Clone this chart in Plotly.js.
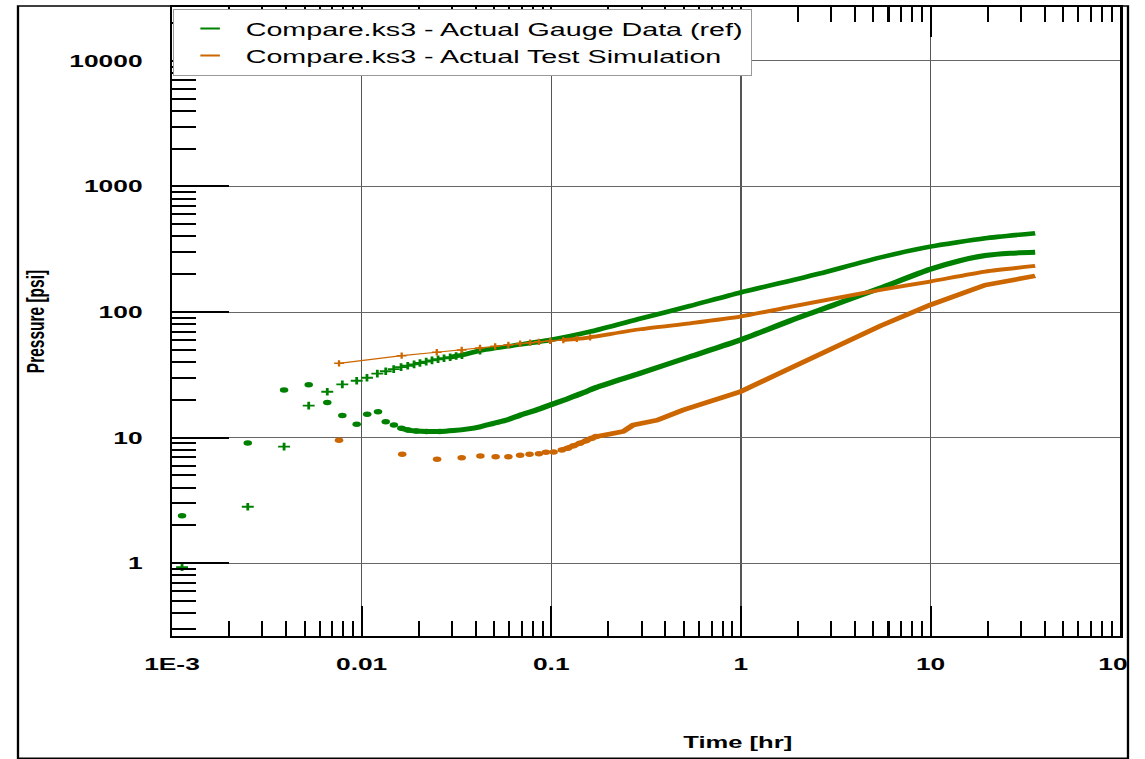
<!DOCTYPE html>
<html>
<head>
<meta charset="utf-8">
<script src="https://cdn.plot.ly/plotly-3.0.1.min.js"></script>
<style>
html,body{margin:0;padding:0;background:#fff;overflow:hidden;}
#chart{width:739px;height:759px;transform:scaleX(1.5494);transform-origin:0 0;}
</style>
</head>
<body>
<div id="chart"></div>
<script>
// ---- data (time in hr, pressure in psi) ----
const legendNames = ["Compare.ks3 - Actual Gauge Data (ref)", "Compare.ks3 - Actual Test Simulation"];

// Actual gauge data: pressure (+ markers)
const gaugeTime  = [0.00113,0.00251,0.0039,0.00526,0.00659,0.00791,0.00942,0.01067,0.0121,0.0134,0.01476,0.01614,0.0175,0.0189,0.0203,0.0219,0.0235,0.0253,0.0272,0.0293,0.0315,0.0338,0.0421,0.0606,0.0986,0.1602,0.294,0.540,0.990,1.979,2.617,5.42,9.95,19.41,35.6];
const gaugePress = [0.93,2.82,8.48,18.0,23.2,26.6,28.4,30.0,32.3,33.8,35.2,36.4,37.4,38.4,39.3,40.3,41.3,42.1,42.9,43.7,44.7,45.5,49.3,53.7,59.9,69.8,88.6,112,143,183,203,272,332,387,424];

// Actual gauge data: derivative (dot markers)
const gaugeDerivTime = [0.00113,0.00251,0.0039,0.00526,0.00659,0.00791,0.00942,0.0107,0.0122,0.0134,0.0148,0.0162,0.0176,0.0194,0.0220,0.0258,0.0305,0.0357,0.0421,0.0495,0.0583,0.0685,0.0805,0.0987,0.1208,0.1478,0.1602,0.1738,0.294,0.540,0.990,1.817,2.617,3.336,5.42,9.95,14.32,19.41,26.3,35.6];
const gaugeDeriv     = [2.39,9.08,24.0,26.4,19.1,15.0,12.8,15.4,16.1,13.4,12.6,11.9,11.5,11.3,11.2,11.2,11.4,11.7,12.2,13.0,13.8,15.1,16.3,18.2,20.3,22.8,24.0,25.2,32.6,44.2,59.9,85.3,104,119,155,219,257,282,294,299];

// Actual test simulation: pressure (+ markers with line)
const simTime  = [0.0076,0.01626,0.0249,0.0337,0.0421,0.0506,0.0594,0.0685,0.0773,0.0861,0.0987,0.1157,0.1363,0.1602,0.294,0.540,0.990,1.817,3.336,5.42,9.95,19.41,35.6];
const simPress = [39.1,45.0,47.9,49.9,51.8,53.4,54.7,56.1,57.1,58.0,58.9,59.9,61.1,63.0,73.0,81.4,91.9,110,131,150,175,210,233];

// Actual test simulation: derivative (dot markers)
const simDerivTime = [0.0076,0.01637,0.0250,0.0337,0.0423,0.0509,0.0594,0.0685,0.0768,0.0861,0.0937,0.1029,0.1136,0.1223,0.1311,0.1416,0.1526,0.1634,0.1724,0.2042,0.2391,0.270,0.3614,0.4956,0.990,1.817,3.336,5.42,9.95,19.41,35.6];
const simDeriv     = [9.53,7.38,6.73,6.93,7.15,7.06,7.06,7.24,7.38,7.46,7.65,7.69,7.98,8.24,8.63,9.03,9.46,9.89,10.2,10.7,11.2,12.6,13.8,16.6,23.2,35.7,54.7,77.5,114,164,194];

const xTickVals = [0.001,0.01,0.1,1,10,100];
const xTickText = ["1E-3","0.01","0.1","1","10","100"];
const yTickVals = [1,10,100,1000,10000];
const yTickText = ["1","10","100","1000","10000"];

// ---- styling ----
const GREEN = "#008000";
const ORANGE = "#cc6600";
// times from which the sampled points merge into a solid band, and up to which single markers stay visible
const gaugeBandFrom = 0.029, gaugeDerivBandFrom = 0.016, simBandFrom = 0.11, simDerivBandFrom = 0.11;
const gaugeMarkTo = 0.05, gaugeDerivMarkTo = 0.03, simMarkTo = 0.2, simDerivMarkTo = 0.18;

function pick(t, v, lo, hi) {
  const x = [], y = [];
  t.forEach((ti, i) => { if (ti >= lo && ti <= hi) { x.push(ti); y.push(v[i]); } });
  return {x, y};
}

const gb = pick(gaugeTime, gaugePress, gaugeBandFrom, Infinity);
const gm = pick(gaugeTime, gaugePress, 0, gaugeMarkTo);
const gdb = pick(gaugeDerivTime, gaugeDeriv, gaugeDerivBandFrom, Infinity);
const gdm = pick(gaugeDerivTime, gaugeDeriv, 0, gaugeDerivMarkTo);
const sb = pick(simTime, simPress, simBandFrom, Infinity);
const sm = pick(simTime, simPress, 0, simMarkTo);
const sdb = pick(simDerivTime, simDeriv, simDerivBandFrom, Infinity);
const sdm = pick(simDerivTime, simDeriv, 0, simDerivMarkTo);

const traces = [
  {x: gb.x, y: gb.y, mode: "lines", line: {color: GREEN, width: 4.5, shape: "spline", smoothing: 0.6}, showlegend: false, hoverinfo: "skip"},
  {x: gm.x, y: gm.y, mode: "markers", marker: {symbol: "cross-thin", size: 5.5, color: GREEN, line: {color: GREEN, width: 1.8}}, showlegend: false, hoverinfo: "skip"},
  {x: gdb.x, y: gdb.y, mode: "lines", line: {color: GREEN, width: 5, shape: "spline", smoothing: 0.6}, showlegend: false, hoverinfo: "skip"},
  {x: gdm.x, y: gdm.y, mode: "markers", marker: {symbol: "circle", size: 5.5, color: GREEN}, showlegend: false, hoverinfo: "skip"},
  {x: sb.x, y: sb.y, mode: "lines", line: {color: ORANGE, width: 3.8, shape: "spline", smoothing: 0.6}, showlegend: false, hoverinfo: "skip"},
  {x: sm.x, y: sm.y, mode: "lines+markers", line: {color: ORANGE, width: 1.2}, marker: {symbol: "cross-thin", size: 4.5, color: ORANGE, line: {color: ORANGE, width: 1.5}}, showlegend: false, hoverinfo: "skip"},
  {x: sdb.x, y: sdb.y, mode: "lines", line: {color: ORANGE, width: 4.5}, showlegend: false, hoverinfo: "skip"},
  {x: sdm.x, y: sdm.y, mode: "markers", marker: {symbol: "circle", size: 5.5, color: ORANGE}, showlegend: false, hoverinfo: "skip"},
  // legend entries
  {x: [null], y: [null], name: legendNames[0], mode: "markers", marker: {symbol: "line-ew", size: 9, color: GREEN, line: {color: GREEN, width: 2}}},
  {x: [null], y: [null], name: legendNames[1], mode: "markers", marker: {symbol: "line-ew", size: 9, color: ORANGE, line: {color: ORANGE, width: 2}}}
];

const tickFont = {family: "Liberation Sans, Arial, sans-serif", size: 17, color: "#000", weight: "bold"};

const layout = {
  width: 739, height: 759,
  margin: {l: 111, r: 16, t: 7, b: 123},
  paper_bgcolor: "#fff", plot_bgcolor: "#fff",
  font: {family: "Liberation Sans, Arial, sans-serif", color: "#000"},
  showlegend: true,
  hovermode: false,
  xaxis: {
    type: "log", range: [-3, 2],
    tickmode: "array", tickvals: xTickVals, ticktext: xTickText,
    ticks: "inside", ticklen: 30, tickwidth: 1.3, tickcolor: "#000",
    minor: {ticks: "inside", ticklen: 15, tickwidth: 1.3, tickcolor: "#000", dtick: "D1", showgrid: false},
    showgrid: true, gridcolor: "#555", gridwidth: 1,
    showline: true, linecolor: "#000", linewidth: 2, mirror: "ticks",
    tickfont: tickFont, ticklabelstandoff: 12,
    zeroline: false, fixedrange: true
  },
  yaxis: {
    type: "log", range: [-0.579, 4.429],
    tickmode: "array", tickvals: yTickVals, ticktext: yTickText,
    ticks: "inside", ticklen: 37, tickwidth: 2, tickcolor: "#000",
    minor: {ticks: "inside", ticklen: 15.5, tickwidth: 2, tickcolor: "#000", dtick: "D1", showgrid: false},
    showgrid: true, gridcolor: "#666", gridwidth: 1,
    showline: true, linecolor: "#000", linewidth: 1.6, mirror: true,
    tickfont: tickFont, ticklabelstandoff: 14,
    title: {text: "Pressure [psi]", font: {family: "Liberation Sans, Arial, sans-serif", size: 15.5, weight: "bold", color: "#000"}, standoff: 12},
    zeroline: false, fixedrange: true
  },
  legend: {
    x: 0.001, y: 0.997, xanchor: "left", yanchor: "top",
    bgcolor: "#fff", bordercolor: "#999", borderwidth: 1,
    font: {family: "Liberation Sans, Arial, sans-serif", size: 18.5, color: "#000"},
    itemwidth: 36, tracegroupgap: 0
  },
  annotations: [
    {text: "Time [hr]", xref: "paper", yref: "paper", x: 0.596, y: -0.1685, xanchor: "center", yanchor: "middle", showarrow: false,
     font: {family: "Liberation Sans, Arial, sans-serif", size: 16.5, weight: "bold", color: "#000"}}
  ],
  shapes: [
    {type: "rect", xref: "paper", yref: "paper", x0: 1.009, x1: 1.2, y0: -0.25, y1: 0.02, fillcolor: "#fff", line: {width: 0}, layer: "above"},
    {type: "rect", xref: "paper", yref: "paper", x0: -0.1624, x1: 1.0082, y0: -0.1943, y1: 1.0016, fillcolor: "rgba(0,0,0,0)", line: {color: "#000", width: 1.5}, layer: "above"}
  ]
};

Plotly.newPlot("chart", traces, layout, {displayModeBar: false, staticPlot: true});
</script>
</body>
</html>
